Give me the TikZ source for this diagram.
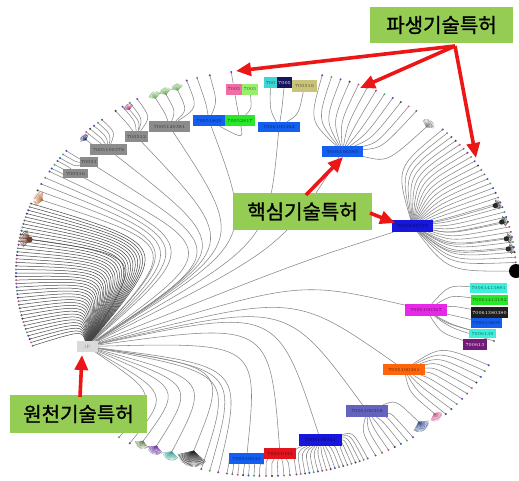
\documentclass[tikz,border=0pt]{standalone}
\usepackage{fontspec}
\newfontfamily\krfont{Noto Sans CJK KR}[FakeBold=1.2]
\usetikzlibrary{calc,arrows.meta}
\pgfdeclarelayer{paper}
\pgfdeclarelayer{edges}
\pgfsetlayers{paper,edges,main}

% palette
\definecolor{tagfill}{RGB}{148,204,84}
\definecolor{arrowred}{RGB}{236,22,22}
\definecolor{linkgray}{RGB}{135,135,135}
\definecolor{darklinkgray}{RGB}{70,70,70}
\definecolor{rootgray}{RGB}{218,218,218}
\definecolor{idblue}{RGB}{20,95,240}
\definecolor{idcore}{RGB}{22,22,220}
\definecolor{idgreen}{RGB}{40,232,40}
\definecolor{idpink}{RGB}{240,110,165}
\definecolor{idlime}{RGB}{150,240,110}
\definecolor{idcyan}{RGB}{60,215,210}
\definecolor{idnavy}{RGB}{22,22,95}
\definecolor{idkhaki}{RGB}{200,195,120}
\definecolor{idgray}{RGB}{140,140,140}
\definecolor{idmagenta}{RGB}{232,40,232}
\definecolor{idaqua}{RGB}{60,240,220}
\definecolor{idblack}{RGB}{30,30,30}
\definecolor{idpurple}{RGB}{115,25,120}
\definecolor{idorange}{RGB}{255,100,10}
\definecolor{idslate}{RGB}{100,100,190}
\definecolor{idred}{RGB}{228,20,30}
\definecolor{dot0}{RGB}{110,110,110}
\definecolor{dot1}{RGB}{130,60,170}
\definecolor{dot2}{RGB}{80,170,90}
\definecolor{dot3}{RGB}{60,80,200}
\definecolor{dot4}{RGB}{60,60,60}
\definecolor{dot5}{RGB}{200,90,150}
\definecolor{tuftbrown}{RGB}{110,65,45}
\definecolor{tuftorange}{RGB}{190,110,60}
\definecolor{tuftnavy}{RGB}{30,40,110}
\definecolor{tuftmag}{RGB}{180,40,120}
\definecolor{tuftgreen}{RGB}{110,175,90}
\definecolor{tuftgray}{RGB}{120,120,120}
\definecolor{tuftdark}{RGB}{40,40,40}
\definecolor{tuftpink}{RGB}{200,90,140}
\definecolor{tuftslate}{RGB}{60,80,140}
\definecolor{tuftteal}{RGB}{60,160,150}
\definecolor{tuftpurple}{RGB}{110,60,160}
\definecolor{tuftolive}{RGB}{110,130,80}

\newcommand\idfont{\fontsize{4.6pt}{5pt}\selectfont}

\tikzset{
  link/.style={draw=linkgray, line width=0.55pt},
  darklink/.style={draw=darklinkgray, line width=0.5pt},
  idbox/.style={fill=#1, text=#1!40!black, inner sep=0pt, font=\idfont},
  rootbox/.style={fill=rootgray, inner sep=0pt, font=\idfont,
    minimum width=21pt, minimum height=11pt},
  tag/.style={fill=tagfill, inner sep=0pt, text=black,
    font=\krfont\fontsize{20pt}{24pt}\selectfont},
  redarrow/.style={draw=arrowred, line width=3.6pt,
    -{Triangle[length=15pt,width=13pt]}},
  strand/.style={draw=#1, line width=0.35pt},
}

% how far a link swings towards the middle before it reaches its end
\newcommand\geofactor{0.6}

% curved link that meets the rim of the layout at a right angle
\newcommand\geo[3][link]{%
  \draw[#1] let \p1=(#2), \p2=(#3), \p3=(O),
     \n1={veclen(\x2-\x1,\y2-\y1)},
     \n2={veclen(\x3-\x2,\y3-\y2)},
     \n3={min(\geofactor*\n1,0.8*\n2)} in
     (#2) .. controls ($(#3)!\n3!(O)$) .. (#3);%
}

% a row of leaves on the rim, all hanging from one parent
\newcommand\fan[6][link]{%
  \foreach \k in {1,...,#6}{%
    \pgfmathsetmacro\lfang{#4+(#5-#4)*(\k-1)/max(#6-1,1)}%
    \coordinate (#3-\k) at ({266+250*cos(\lfang)},{273-203*sin(\lfang)});%
    \geo[#1]{#2}{#3-\k}%
    \pgfmathtruncatemacro\dc{mod(\k,6)}%
    \fill[dot\dc] (#3-\k) circle (1.1);%
  }}

% a dense little cluster of leaves on the rim
\newcommand\tuft[5]{% name, angle, radius, colour, strands
  \pgfmathsetmacro\tx{266+(250-#3)*cos(#2)}%
  \pgfmathsetmacro\ty{273-(203-#3)*sin(#2)}%
  \pgfmathsetmacro\tn{atan2(250*sin(#2),203*cos(#2))}%
  \coordinate (#1) at (\tx,\ty);%
  \foreach \j in {1,...,#5}{%
    \pgfmathsetmacro\ts{\tn-62+124*(\j-1)/(#5-1)}%
    \draw[strand=#4] (#1) -- ++({#3*cos(\ts)},{-#3*sin(\ts)});%
  }}

\begin{document}
\begin{tikzpicture}[x=1pt,y=-1pt]
\useasboundingbox (0,0) rectangle (519,480);
\begin{pgfonlayer}{paper}
  \fill[white] (0,0) rectangle (519,480);
\end{pgfonlayer}
\coordinate (O) at (266,273);

% ---------- patent nodes ----------
\node[rootbox] (root) at (87,346.5) {\textcolor{idpink}{J}\textcolor{tuftteal}{P}};

\node[idbox=idgray, minimum width=25pt, minimum height=9pt]  (G1) at (75.5,173.5) {700516};
\node[idbox=idgray, minimum width=18pt, minimum height=10pt] (G2) at (89,162) {70051};
\node[idbox=idgray, minimum width=37pt, minimum height=11pt] (G3) at (108.5,149.5) {7005100378};
\node[idbox=idgray, minimum width=23pt, minimum height=11pt] (G4) at (136.5,136.5) {700512};
\node[idbox=idgray, minimum width=41pt, minimum height=11pt] (G5) at (169.5,126.5) {7005120381};

\node[idbox=idblue,  minimum width=32pt, minimum height=11pt] (B1)  at (209,120.5) {70051803};
\node[idbox=idgreen, minimum width=30pt, minimum height=11pt] (GR1) at (240,120.5) {70052817};
\node[idbox=idpink,  minimum width=16pt, minimum height=11pt] (PK)  at (234,89) {7005};
\node[idbox=idlime,  minimum width=16pt, minimum height=11pt] (LG)  at (250,89) {7005};

\node[idbox=idblue,  minimum width=42pt, minimum height=10pt] (B2) at (279,127) {7005100362};
\node[idbox=idcyan,  minimum width=13pt, minimum height=11pt] (C1) at (270.5,82.5) {700};
\node[idbox=idnavy,  minimum width=15pt, minimum height=11pt, text=white!75] (N1) at (284.5,82.5) {7005};
\node[idbox=idkhaki, minimum width=25pt, minimum height=12pt] (K1) at (304.5,86) {700516};

\node[idbox=idblue, minimum width=41pt, minimum height=11pt] (B3) at (342.5,151.5) {7005100385};
\node[idbox=idcore, minimum width=41pt, minimum height=12pt] (B4) at (412.5,226) {7005120378};

\node[idbox=idmagenta, minimum width=42pt, minimum height=12pt] (M) at (426,310) {7005100367};
\node[idbox=idaqua,  minimum width=37pt, minimum height=10pt] (C2)  at (488.5,288) {70061413881};
\node[idbox=idgreen, minimum width=37pt, minimum height=10pt] (GR2) at (489.5,300) {70061413182};
\node[idbox=idblack, minimum width=37pt, minimum height=11pt, text=white!85] (BK) at (489.5,312.5) {70061380380};
\node[idbox=idblue,  minimum width=31pt, minimum height=10pt] (BL)  at (486.5,323) {700613805};
\node[idbox=idaqua,  minimum width=27pt, minimum height=9pt]  (C3)  at (482.5,333.5) {7006139};
\node[idbox=idpurple, minimum width=24pt, minimum height=11pt, text=white!75] (PU) at (475,344.5) {700613};

\node[idbox=idorange, minimum width=42pt, minimum height=11pt] (OR) at (404,369.5) {7005100361};
\node[idbox=idslate,  minimum width=42pt, minimum height=12pt] (SL) at (367,411) {7005100358};
\node[idbox=idcore,   minimum width=43pt, minimum height=12pt] (B5) at (320.5,440) {7005100341};
\node[idbox=idred,    minimum width=32pt, minimum height=11pt] (RD) at (280,453.5) {70051003};
\node[idbox=idblue,   minimum width=35pt, minimum height=11pt] (B6) at (246.5,458.5) {700510033};

% ---------- links ----------
\begin{pgfonlayer}{edges}
  % leaves of the root along the left rim: wide arcs
  {\renewcommand\geofactor{0.95}
   \fan[darklink]{root}{lf}{160}{201}{42}
   \tuft{lfA}{170}{10}{tuftbrown}{16}   \geo[darklink]{root}{lfA}
   \tuft{lfB}{158}{9}{tuftorange}{14}   \geo{root}{lfB}
   \fan{root}{ul}{150}{156}{4}
   \geo{root}{G1} \geo{root}{G2} \geo{root}{G3}
   \geo{root}{G4} \geo{root}{G5}}
  \fill[tuftbrown] (lfA) circle (3);

  % grey branch nodes, upper left
  \fan{G1}{ga}{146.5}{149}{3}
  \fan{G2}{gb}{143}{145.5}{3}
  \fan{G3}{gc}{131}{136}{5}
  \tuft{gct}{137.5}{6}{tuftnavy}{10} \geo{G3}{gct}
  \fan{G4}{gd}{121}{127}{4}
  \tuft{gdt}{124}{6}{tuftmag}{10} \geo{G4}{gdt}
  \fan{G5}{ge}{108.5}{108.5}{1}
  \tuft{geA}{117}{7}{tuftgreen}{12} \geo{G5}{geA}
  \tuft{geB}{114.3}{7}{tuftgreen}{12} \geo{G5}{geB}
  \tuft{geC}{111.3}{7}{tuftgreen}{12} \geo{G5}{geC}

  % top branches
  \geo{root}{B1} \fan{B1}{ba}{103}{106}{2}
  \geo{B1}{GR1} \geo{GR1}{PK} \geo{GR1}{LG}
  \fan{PK}{pk}{98}{98}{1}
  \geo{root}{B2} \geo{B2}{C1} \geo{B2}{N1} \geo{B2}{K1}
  \geo{root}{B3} \fan{B3}{bb}{77}{53}{12}
  \tuft{bbt}{48.5}{8}{tuftgray}{12} \geo{B3}{bbt}

  % core patent and its many followers on the right rim
  \geo{root}{B4} \fan{B4}{bc}{45}{3}{30}
  \foreach \t/\a in {bcA/20,bcB/15,bcC/10,bcD/7}{%
    \tuft{\t}{\a}{6}{tuftdark}{10} \geo{B4}{\t}
    \fill[tuftdark] (\t) circle (2.6);}
  \coordinate (blob) at (516,271);
  \geo{B4}{blob}
  \fill[black] (blob) circle (7);

  % magenta branch and its boxed children
  \geo{root}{M}
  \geo{M}{C2} \geo{M}{GR2} \geo{M}{BK} \geo{M}{BL} \geo{M}{C3} \geo{M}{PU}
  \coordinate (ma) at (495,337);
  \coordinate (mb) at (494,341);
  \geo{M}{ma} \geo{M}{mb}
  \fill[dot3] (ma) circle (1.1);
  \fill[dot0] (mb) circle (1.1);

  % lower right branches
  \geo{root}{OR} \fan{OR}{oa}{-27}{-44}{10}
  \tuft{oat}{-46}{8}{tuftpink}{14} \geo{OR}{oat}
  \geo{root}{SL} \fan{SL}{sa}{-54}{-64}{7}
  \tuft{sat}{-50.5}{10}{tuftslate}{18} \geo{SL}{sat}
  \geo{root}{B5} \fan{B5}{bd}{-66}{-83}{18}
  \geo{root}{RD} \fan{RD}{ra}{-84.5}{-90}{5}
  \geo{root}{B6} \fan{B6}{be}{-91.5}{-99}{7}

  % root leaves and clusters along the bottom rim
  \fan{root}{bt}{-101}{-105}{3}
  \tuft{btA}{-108}{16}{tuftdark}{28}    \geo{root}{btA}
  \tuft{btB}{-113}{9}{tuftteal}{16}     \geo{root}{btB}
  \tuft{btC}{-117}{9}{tuftpurple}{16}   \geo{root}{btC}
  \tuft{btD}{-120.5}{8}{tuftolive}{14}  \geo{root}{btD}
  \fan{root}{bl}{-123}{-126}{2}
\end{pgfonlayer}

% ---------- captions ----------
\node[tag, minimum width=143pt, minimum height=36pt] (derived) at (441.5,25) {파생기술특허};
\node[tag, minimum width=139pt, minimum height=37pt] (core) at (302.5,211.5) {핵심기술특허};
\node[tag, minimum width=137pt, minimum height=38pt] (origin) at (78.5,414) {원천기술특허};

% ---------- pointers ----------
\coordinate (fork) at (455,46);
\coordinate (aimA) at (236,71);
\coordinate (aimB) at (360,88);
\coordinate (aimC) at (476,158);
\coordinate (coreTop) at (306,195);
\coordinate (aimD) at (343,157);
\coordinate (coreRight) at (370,213);
\coordinate (aimE) at (395,223);
\coordinate (originTop) at (80,397);
\coordinate (aimF) at (82,355);

\draw[redarrow] (fork) -- (aimA);
\draw[redarrow] (fork) -- (aimB);
\draw[redarrow] (fork) -- (aimC);
\draw[redarrow] (coreTop) -- (aimD);
\draw[redarrow] (coreRight) -- (aimE);
\draw[redarrow] (originTop) -- (aimF);
\end{tikzpicture}
\end{document}
